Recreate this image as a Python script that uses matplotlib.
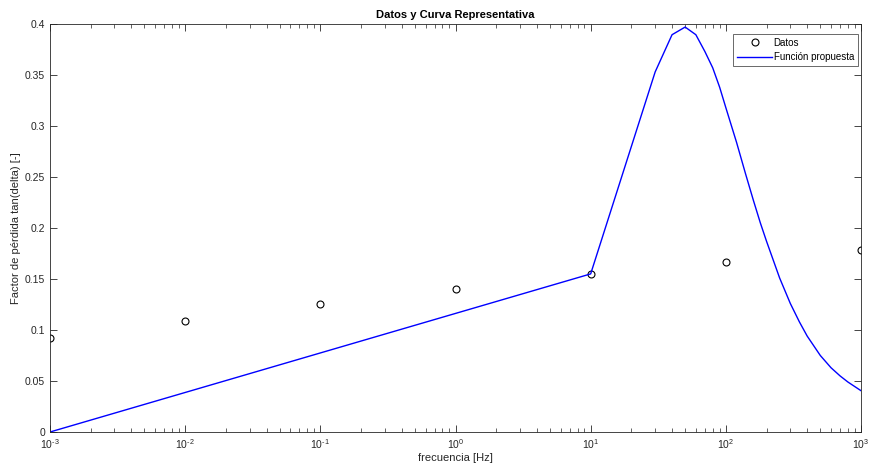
import numpy as np
import matplotlib
matplotlib.use('Agg')
import matplotlib.pyplot as plt
from matplotlib.ticker import LogLocator, FixedLocator, NullFormatter, FuncFormatter

# datos medidos
frec_datos = [1e-3, 1e-2, 1e-1, 1e0, 1e1, 1e2, 1e3]
tan_datos = [0.0918, 0.109, 0.1255, 0.140, 0.155, 0.1667, 0.1784]

# curva propuesta
frec_curva = [1e-3, 10, 30, 40, 50, 60, 70, 80, 90, 100, 120, 140, 160, 180, 200,
              250, 300, 350, 400, 500, 600, 700, 800, 900, 1000]
tan_curva = [0.0, 0.155, 0.353, 0.3895, 0.397, 0.3895, 0.373, 0.357, 0.338, 0.318,
             0.284, 0.253, 0.227, 0.205, 0.187, 0.151, 0.126, 0.108, 0.094, 0.075,
             0.063, 0.055, 0.049, 0.0445, 0.0405]

plt.rcParams['font.family'] = ['Liberation Sans', 'DejaVu Sans']
plt.rcParams['mathtext.fontset'] = 'custom'
plt.rcParams['mathtext.rm'] = 'Liberation Sans'
gris = '#262626'


def etiqueta_log(v, pos):
    e = int(round(np.log10(v)))
    if e < 0:
        return r'$\mathregular{10^{\text{-}%d}}$' % (-e)
    return r'$\mathregular{10^{%d}}$' % e


fig = plt.figure(figsize=(8.69, 4.71), dpi=100)
ax = fig.add_axes([50/869, 39/471, 811/869, 408/471])

ax.plot(frec_datos, tan_datos, 'o', mfc='none', mec='black', ms=5, mew=0.8, label='Datos')
ax.plot(frec_curva, tan_curva, '-', color='#0000ff', lw=1.0, label='Función propuesta')

ax.set_xscale('log')
ax.set_xlim(1e-3, 1e3)
ax.set_ylim(0, 0.4)
ax.yaxis.set_major_locator(FixedLocator(np.arange(0, 0.401, 0.05)))
ax.set_yticklabels(['0', '0.05', '0.1', '0.15', '0.2', '0.25', '0.3', '0.35', '0.4'])
ax.xaxis.set_major_locator(LogLocator(base=10, numticks=20))
ax.xaxis.set_major_formatter(FuncFormatter(etiqueta_log))
ax.xaxis.set_minor_locator(LogLocator(base=10, subs=np.arange(2, 10), numticks=20))
ax.xaxis.set_minor_formatter(NullFormatter())

ax.tick_params(which='both', direction='in', top=True, right=True, colors=gris,
               labelsize=7.5, labelcolor=gris)
ax.tick_params(which='major', length=5, width=0.6)
ax.tick_params(which='minor', length=3, width=0.5)
for s in ax.spines.values():
    s.set_color(gris)
    s.set_linewidth(0.6)

ax.set_xlabel('frecuencia [Hz]', fontsize=8, color=gris, labelpad=2)
ax.set_ylabel('Factor de pérdida tan(delta) [-]', fontsize=8, color=gris, labelpad=3)
ax.set_title('Datos y Curva Representativa', fontsize=8, fontweight='bold', pad=4)

leg = ax.legend(loc='upper right', fontsize=7, fancybox=False, edgecolor=gris,
                handlelength=3.6, borderpad=0.4, labelspacing=0.45, handletextpad=0.15,
                borderaxespad=0, bbox_to_anchor=(0.9963, 0.9755))
leg.get_frame().set_linewidth(0.6)

fig.savefig('out.png', dpi=100)
